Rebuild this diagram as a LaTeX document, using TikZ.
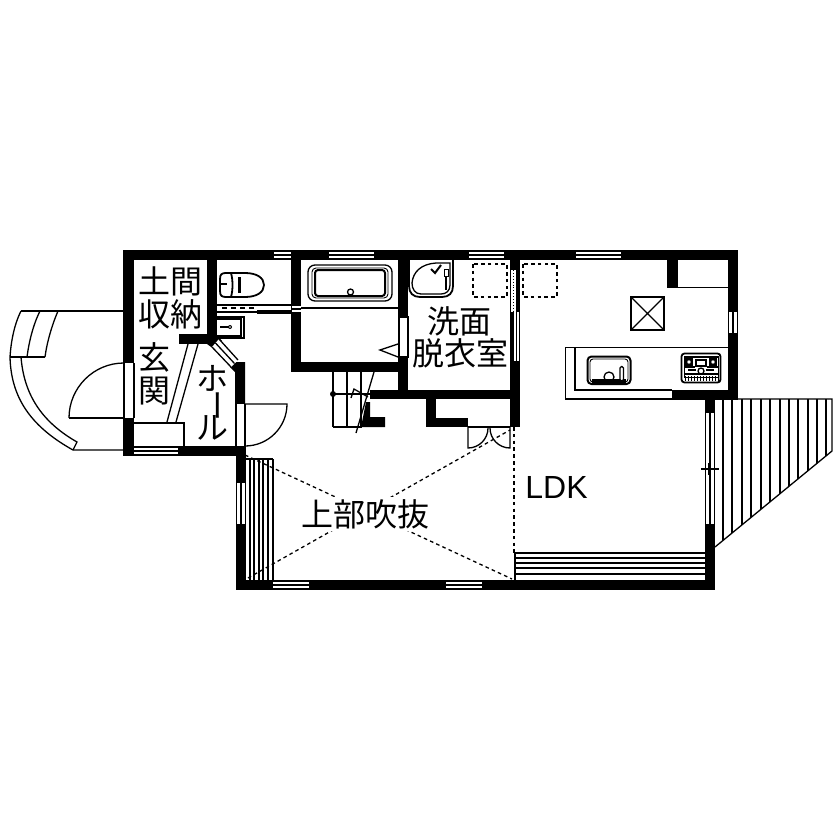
\documentclass[tikz,border=0pt]{standalone}
\usepackage{fontspec}
\newfontfamily\cjk{Noto Sans CJK JP}
\setmainfont{Liberation Sans}
\newcommand{\winH}[4]{\fill[white] (#1,#3+1.2) rectangle (#2,#4-1.2);\draw[thin line] (#1,#3+1.2) -- (#2,#3+1.2) (#1,#4-1.2) -- (#2,#4-1.2);\draw[thin line] (#1,{(#3+#4)/2}) -- (#2,{(#3+#4)/2});}
\newcommand{\winV}[4]{\fill[white] (#3+1.2,#1) rectangle (#4-1.2,#2);\draw[thin line] ({(#3+#4)/2},#1) -- ({(#3+#4)/2},#2);}
\tikzset{
  thin line/.style={line width=1.3pt,black},
  fine/.style={line width=0.9pt,black},
  med/.style={line width=1.8pt,black},
  dash line/.style={line width=1.3pt,black,dash pattern=on 3.6pt off 3.2pt},
  wall/.style={fill=black,draw=none},
  jp/.style={inner sep=0pt,font=\cjk\fontsize{32}{32}\selectfont},
}
\begin{document}
\begin{tikzpicture}[x=1pt,y=-1pt,line join=miter]
\useasboundingbox (0,0) rectangle (840,840);
% porch
\draw[thin line] (21,311) -- (123,311);
\draw[thin line] (21,311) .. controls (14,325) and (11,342) .. (10,357) .. controls (11,395) and (28,425) .. (73,450) -- (123,450);
\draw[thin line] (21,357) .. controls (24,395) and (42,422) .. (77,442) -- (73,450);
\draw[thin line] (10,357) -- (45,357);
\draw[thin line] (40,311) .. controls (33,325) and (29,342) .. (27,357);
\draw[thin line] (58,311) .. controls (52,325) and (47,342) .. (45,357);
% entrance door
\draw[thin line] (124,363) arc[start angle=-90,end angle=-180,radius=55];
\draw[thin line] (69,418) -- (124,418);
% deck
\begin{scope}
\clip (715,399) -- (832,399) -- (832,451) -- (715,547) -- cycle;
\foreach \x in {723,732,742,751,761,770,780,789,798,808,817,826}{\draw[thin line] (\x,399) -- (\x,550);}
\end{scope}
\draw[thin line] (715,399) -- (832,399) -- (832,451) -- (715,547);
% void stair
\foreach \x in {250,254,259,263,268,273}{\draw[thin line] (\x,459) -- (\x,580);}
\draw[thin line] (246,459) -- (273,459);
% LDK stair
\foreach \y in {553,558,563,568,574}{\draw[thin line] (515,\y) -- (705,\y);}
\draw[thin line] (515,553) -- (515,580);
% dashed
\draw[dash line] (245,455) -- (512,579);
\draw[dash line] (248,578) -- (510,430);
\draw[dash line] (514,427) -- (514,553);
\draw[dash line] (473,264) rectangle (507,297);
\draw[dash line] (523,264) rectangle (557,297);
\node[fill=white,minimum width=126pt,minimum height=34pt,inner sep=0pt] (voidbg) at (365,514) {};
\node[jp] (void) at (365,514) {上部吹抜};
% walls
\fill[wall] (123,250) rectangle (738,260);
\fill[wall] (123,250) rectangle (134,363);
\fill[wall] (123,418) rectangle (134,456);
\fill[wall] (123,446) rectangle (245,456);
\fill[wall] (207,260) rectangle (217,340);
\fill[wall] (179,334) rectangle (217,344);
\fill[wall] (291,250) rectangle (301,372);
\fill[wall] (291,362) rectangle (408,372);
\fill[wall] (398,250) rectangle (408,399);
\fill[wall] (370,390) rectangle (520,399);
\fill[wall] (510,250) rectangle (520,427);
\fill[wall] (426,399) rectangle (436,427);
\fill[wall] (426,418) rectangle (468,427);
\fill[wall] (510,418) rectangle (520,427);
\fill[wall] (366,402) -- (370,402) -- (370,417) -- (385,417) -- (385,427) -- (361,427) -- cycle;
\fill[wall] (728,250) rectangle (738,400);
\fill[wall] (672,390) rectangle (738,400);
\fill[wall] (705,390) rectangle (715,590);
\fill[wall] (236,446) rectangle (246,590);
\fill[wall] (236,580) rectangle (715,590);
\fill[wall] (667,260) rectangle (678,288);
\fill[wall] (207,336) -- (217,336) -- (222,341) -- (214,349) -- (207,344) -- cycle;
\fill[wall] (236,362) -- (245,362) -- (245,404) -- (235,404) -- (235,372) -- (230,367) -- cycle;
% hall door
\fill[white] (235.5,404) rectangle (245,446);
\draw[thin line] (236,404) -- (236,446) (245,404) -- (245,446);
\draw[thin line] (245,404) -- (287,404) arc[start angle=0,end angle=90,radius=42];
% diagonal window
\fill[white] (219,339) -- (238,360) -- (231,367) -- (212,347) -- cycle;
\draw[thin line] (219,339) -- (238,360) (215.5,343) -- (234.5,363.5) (212,347) -- (231,367);
% entrance frame
\fill[white] (124,363) rectangle (134,418);
\draw[thin line] (124,363) -- (124,418) (134,363) -- (134,418);
% windows
\winH{134}{178}{446}{456}
\winH{274}{291}{250}{260}
\winH{329}{374}{250}{260}
\winH{469}{504}{250}{260}
\winH{576}{621}{250}{260}
\winH{273}{309}{580}{590}
\winH{446}{482}{580}{590}
\winV{312}{333}{728}{738}
\winV{413}{524}{705}{715}
\winV{483}{524}{236}{246}
% bath door
\fill[white] (399,317) rectangle (407,357);
\draw[thin line] (399,317) rectangle (408,357);
% wash-LDK sliding
\fill[white] (511,270) rectangle (516,312);
\draw[fine,dotted] (513.5,270) -- (513.5,312);
\fill[white] (513.5,312) rectangle (519,361);
\draw[thin line] (516.3,312) -- (516.3,361);
% lower door
\fill[white] (468,418.5) rectangle (510,426.5);
\draw[thin line] (468,427) -- (468,448) arc[start angle=90,end angle=0,radius=20];
\draw[thin line] (510,427) -- (510,448) arc[start angle=90,end angle=180,radius=20];
\draw[thin line] (468,427) -- (510,427);
% entrance
\draw[thin line] (134,423) -- (184,423) -- (184,446);
\draw[thin line] (188,344) -- (167,422) (198,344) -- (176,422);
% toilet
\draw[med] (220,279) .. controls (220,274) and (222,273) .. (226,273) -- (245,273) .. controls (257,273) and (264,278) .. (264,285) .. controls (264,292) and (257,297) .. (245,297) -- (226,297) .. controls (222,297) and (220,296) .. (220,291) -- cycle;
\draw[med] (231,273) .. controls (233,280) and (233,290) .. (231,297);
\fill (238,277) rectangle (241,293);
\draw[thin line] (220,284) -- (227,284);
\draw[thin line] (217,305) -- (291,305);
\draw[line width=1.1pt,dash pattern=on 5pt off 4pt] (222,308) -- (256,308);
\fill[wall] (217,311) rectangle (257,313);
\draw[thin line] (257,313) -- (291,313) (257,311) -- (291,311);
\fill[white] (291.5,305) rectangle (300.5,313);
\draw[thin line] (291,305) -- (301,305) (291,309) -- (301,309) (291,313) -- (301,313);
% handwash
\draw[thin line] (217,317) -- (244,317) -- (244,338) -- (217,338);
\draw[thin line] (217,319) -- (241,319) -- (241,336) -- (217,336);
\draw[med] (220,327) -- (230,327);
\fill (230,327) circle (2);
\fill[white] (230,327) circle (0.8);
% bath
\draw[thin line] (301,308) -- (398,308);
\draw[thin line] (308,272) arc[start angle=180,end angle=270,radius=7] -- (385,265) arc[start angle=-90,end angle=0,radius=7] -- (392,294) arc[start angle=0,end angle=90,radius=7] -- (315,301) arc[start angle=90,end angle=180,radius=7] -- cycle;
\draw[fine] (312,272) arc[start angle=180,end angle=270,radius=4] -- (384,268) arc[start angle=-90,end angle=0,radius=4] -- (388,294) arc[start angle=0,end angle=90,radius=4] -- (316,298) arc[start angle=90,end angle=180,radius=4] -- cycle;
\draw[line width=2pt] (315,273) arc[start angle=180,end angle=270,radius=3] -- (382,270) arc[start angle=-90,end angle=0,radius=3] -- (385,293) arc[start angle=0,end angle=90,radius=3] -- (318,296) arc[start angle=90,end angle=180,radius=3] -- cycle;
\draw[thin line] (350.5,292) circle (3);
% bath door swing
\draw[thin line] (398,344) -- (380,350) -- (398,357);
% basin
\draw[med] (409,260) -- (409,286) .. controls (409,293) and (413,297) .. (420,297) -- (442,297) .. controls (449,297) and (453,293) .. (453,286) -- (453,260);
\draw[thin line] (412,283) .. controls (413,272) and (421,264) .. (436,263) -- (450,263) -- (450,285) .. controls (450,291) and (446,294) .. (441,294) -- (421,294) .. controls (415,294) and (412,289) .. (412,283);
\draw[line width=2pt] (431,269) -- (435,273) -- (441,265);
\draw[fine] (444,269) rectangle (448,276);
\draw[thin line] (446,276) -- (446,290);
% stairs
\foreach \x in {333,347,361}{\draw[thin line] (\x,372) -- (\x,427);}
\draw[thin line] (333,427) -- (362,427);
\draw[thin line] (333,394) -- (370,394);
\fill (333,394) circle (3);
\draw[thin line] (374,372) -- (356,433);
\draw[thin line] (351,398) -- (354,389) -- (368,397);
% kitchen
\draw[thin line] (678,287.5) -- (728,287.5);
\draw[thin line] (631,297) rectangle (664,330);
\draw[thin line] (631,297) -- (664,330) (664,297) -- (631,330);
\draw[thin line] (672,399) -- (565.5,399) -- (565.5,347.5) -- (728,347.5);
\draw[thin line] (575,347.5) -- (575,390) -- (672,390);
% sink
\draw[line width=2pt,rounded corners=4pt] (587.5,356.5) rectangle (630.5,384);
\draw[fine,rounded corners=3pt] (590,359) rectangle (628,382);
\fill (592,379) rectangle (626,382.5);
\fill[white] (609,377) circle (5);
\draw[thin line] (609,377) circle (5);
\fill (604,379) rectangle (614,383);
\fill[white,draw=black,line width=1.2pt,rounded corners=1.5pt] (620,366.5) rectangle (623.5,381);
% stove
\draw[med,rounded corners=3pt] (681.5,353.5) rectangle (720.5,382.5);
\draw[fine] (684,356) rectangle (718,377);
\fill (684,356) rectangle (718,358);
\draw[thin line] (686,359) rectangle (692,365);
\draw[thin line] (710,359) rectangle (716,365);
\draw[thin line] (696,360) rectangle (706,366);
\draw[thin line] (689,362) circle (2.5) (713,362) circle (2.5);
\draw[thin line] (684,367) -- (695,367) (707,367) -- (718,367);
\draw[thin line] (701,371) circle (3);
\fill (688,369) rectangle (696,371);
\fill (706,369) rectangle (714,371);
\fill (684,373) rectangle (718,375);
\foreach \x in {685,688,...,718}{\draw[fine] (\x,376) -- (\x,381);}
% cross
\draw[thin line] (701,469) -- (719,469) (709,463) -- (709,475);
% labels
\node[jp] (doma) at (170,281) {土間};
\node[jp] (shuno) at (170,314) {収納};
\node[jp] (gen) at (154,357) {玄};
\node[jp] (kan) at (154,391) {関};
\node[jp] (ho) at (212,378) {ホ};
\node[jp,rotate=90,yscale=-1] (bar) at (212,405) {ー};
\node[jp] (ru) at (212,428) {ル};
\node[jp] (senmen) at (459,321) {洗面};
\node[jp] (datsui) at (460,353) {脱衣室};
\node[inner sep=0pt,font=\fontsize{32}{32}\selectfont] (ldk) at (556.5,487) {LDK};
\end{tikzpicture}
\end{document}
